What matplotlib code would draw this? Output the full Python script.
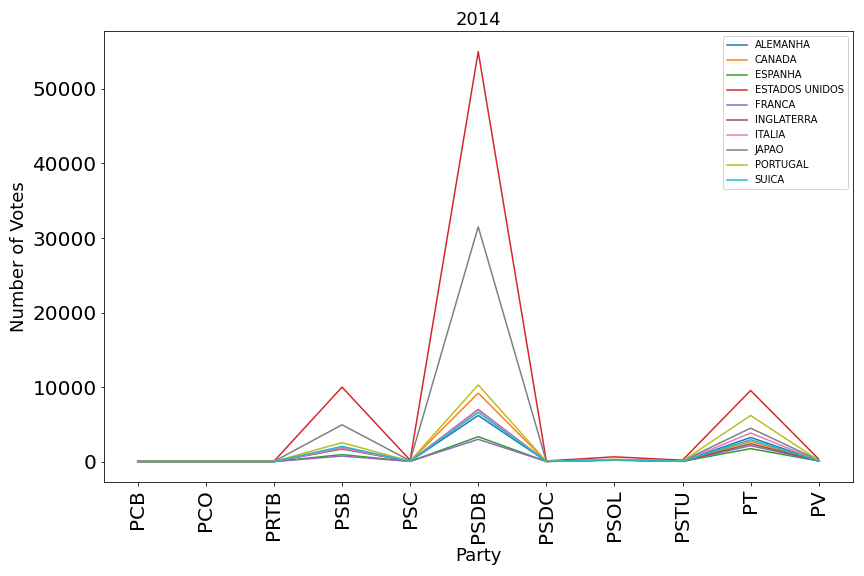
import numpy as np
import matplotlib
matplotlib.use('Agg')
import matplotlib.pyplot as plt

parties = ['PCB', 'PCO', 'PRTB', 'PSB', 'PSC', 'PSDB', 'PSDC', 'PSOL', 'PSTU', 'PT', 'PV']

# votes per country
alemanha = [20, 10, 20, 1850, 60, 6200, 40, 250, 60, 3250, 120]
canada = [20, 10, 20, 1800, 60, 9200, 40, 250, 60, 2700, 120]
espanha = [15, 10, 15, 950, 40, 3350, 30, 200, 40, 1750, 90]
estados_unidos = [50, 30, 50, 10000, 200, 55000, 100, 650, 200, 9550, 350]
franca = [15, 10, 15, 750, 40, 3000, 30, 200, 40, 2150, 100]
inglaterra = [20, 10, 20, 1700, 60, 7000, 40, 250, 60, 2400, 120]
italia = [20, 10, 20, 1800, 60, 6900, 40, 250, 60, 3850, 130]
japao = [30, 20, 30, 4950, 120, 31500, 60, 300, 100, 4500, 200]
portugal = [25, 15, 25, 2550, 80, 10300, 50, 300, 80, 6200, 180]
suica = [20, 10, 20, 2050, 60, 6600, 40, 250, 60, 2950, 120]

countries = ['ALEMANHA', 'CANADA', 'ESPANHA', 'ESTADOS UNIDOS', 'FRANCA',
             'INGLATERRA', 'ITALIA', 'JAPAO', 'PORTUGAL', 'SUICA']
series = [alemanha, canada, espanha, estados_unidos, franca,
          inglaterra, italia, japao, portugal, suica]

fig, ax = plt.subplots(figsize=(12, 8), dpi=72)
fig.subplots_adjust(left=0.12, right=0.987, top=0.946, bottom=0.163)

for name, vals in zip(countries, series):
    ax.plot(parties, vals, label=name, linewidth=1.5)

ax.set_title('2014', fontsize=18)
ax.set_xlabel('Party', fontsize=18)
ax.set_ylabel('Number of Votes', fontsize=18)
ax.tick_params(axis='both', labelsize=20)
plt.xticks(rotation=90)
ax.legend(loc='upper right', fontsize=10)

fig.savefig('out.png')
